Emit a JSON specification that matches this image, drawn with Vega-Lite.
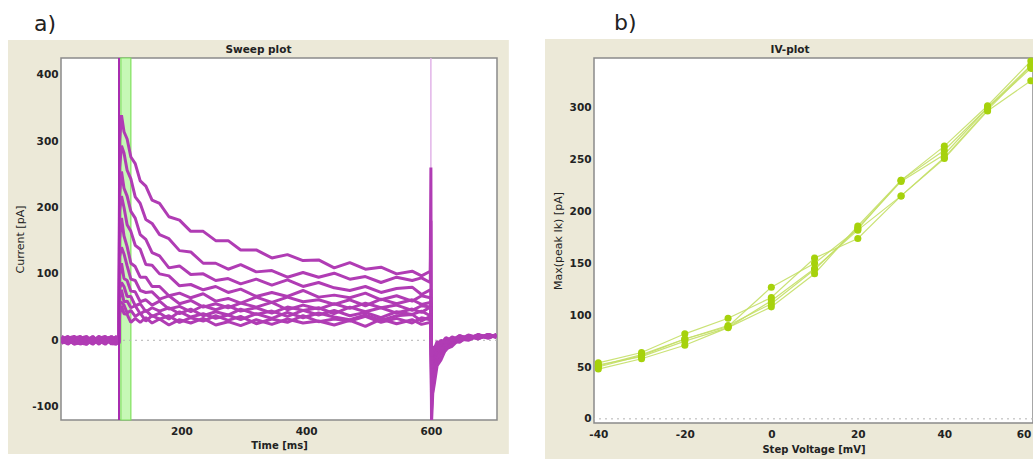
{
"$schema":"https://vega.github.io/schema/vega-lite/v6.json",
"background":"white",
"padding":{"left":7,"top":12,"right":0,"bottom":0},
"spacing":35,
"config":{
 "view":{"stroke":null},
 "font":"DejaVu Sans",
 "axis":{"grid":false,"domain":false,"ticks":false,"labelFont":"DejaVu Sans","labelFontWeight":"bold","labelFontSize":10.5,"labelColor":"#222222","titleColor":"#222222","titleFont":"DejaVu Sans","zindex":1,"labelPadding":4,"labelOverlap":false},
 "title":{"font":"DejaVu Sans","color":"#222222"}
},
"datasets":{
"sweeps":[
{"s":1,"t":8,"i":2},{"s":1,"t":18,"i":-4},{"s":1,"t":28,"i":5},{"s":1,"t":38,"i":-1},{"s":1,"t":48,"i":-6},{"s":1,"t":58,"i":3},{"s":1,"t":68,"i":1},{"s":1,"t":78,"i":-5},{"s":1,"t":88,"i":6},{"s":1,"t":96,"i":-2},{"s":1,"t":100,"i":0},
{"s":1,"t":101,"i":300},{"s":1,"t":104,"i":339},{"s":1,"t":108,"i":314},{"s":1,"t":113,"i":303},{"s":1,"t":119,"i":276},{"s":1,"t":126,"i":266},{"s":1,"t":134,"i":240},{"s":1,"t":143,"i":232},{"s":1,"t":153,"i":211},{"s":1,"t":165,"i":206},{"s":1,"t":180,"i":186},{"s":1,"t":197,"i":181},{"s":1,"t":215,"i":164},{"s":1,"t":235,"i":164},{"s":1,"t":255,"i":150},{"s":1,"t":275,"i":150},{"s":1,"t":295,"i":136},{"s":1,"t":320,"i":136},{"s":1,"t":345,"i":124},{"s":1,"t":370,"i":129},{"s":1,"t":395,"i":120},{"s":1,"t":420,"i":121},{"s":1,"t":445,"i":109},{"s":1,"t":470,"i":117},{"s":1,"t":495,"i":107},{"s":1,"t":520,"i":110},{"s":1,"t":545,"i":100},{"s":1,"t":570,"i":104},{"s":1,"t":585,"i":97},{"s":1,"t":599,"i":104},
{"s":1,"t":600,"i":260},{"s":1,"t":601,"i":-125},{"s":1,"t":603,"i":-80},{"s":1,"t":606,"i":-63},{"s":1,"t":610,"i":-38},{"s":1,"t":616,"i":-30},{"s":1,"t":624,"i":-13},{"s":1,"t":634,"i":-9},{"s":1,"t":646,"i":2},{"s":1,"t":660,"i":0},{"s":1,"t":676,"i":7},{"s":1,"t":692,"i":3},{"s":1,"t":705,"i":8},
{"s":2,"t":8,"i":-3},{"s":2,"t":18,"i":5},{"s":2,"t":28,"i":-2},{"s":2,"t":38,"i":4},{"s":2,"t":48,"i":-1},{"s":2,"t":58,"i":-6},{"s":2,"t":68,"i":2},{"s":2,"t":78,"i":5},{"s":2,"t":88,"i":-4},{"s":2,"t":96,"i":3},{"s":2,"t":100,"i":1},
{"s":2,"t":101,"i":260},{"s":2,"t":104,"i":293},{"s":2,"t":108,"i":282},{"s":2,"t":113,"i":256},{"s":2,"t":119,"i":243},{"s":2,"t":126,"i":216},{"s":2,"t":134,"i":206},{"s":2,"t":143,"i":182},{"s":2,"t":153,"i":176},{"s":2,"t":165,"i":159},{"s":2,"t":180,"i":153},{"s":2,"t":197,"i":135},{"s":2,"t":215,"i":133},{"s":2,"t":235,"i":116},{"s":2,"t":255,"i":116},{"s":2,"t":275,"i":107},{"s":2,"t":295,"i":114},{"s":2,"t":320,"i":103},{"s":2,"t":345,"i":105},{"s":2,"t":370,"i":95},{"s":2,"t":395,"i":102},{"s":2,"t":420,"i":95},{"s":2,"t":445,"i":101},{"s":2,"t":470,"i":92},{"s":2,"t":495,"i":96},{"s":2,"t":520,"i":87},{"s":2,"t":545,"i":95},{"s":2,"t":570,"i":90},{"s":2,"t":585,"i":94},{"s":2,"t":599,"i":87},
{"s":2,"t":600,"i":180},{"s":2,"t":601,"i":-105},{"s":2,"t":603,"i":-72},{"s":2,"t":606,"i":-47},{"s":2,"t":610,"i":-36},{"s":2,"t":616,"i":-20},{"s":2,"t":624,"i":-15},{"s":2,"t":634,"i":-2},{"s":2,"t":646,"i":-3},{"s":2,"t":660,"i":6},{"s":2,"t":676,"i":2},{"s":2,"t":692,"i":8},{"s":2,"t":705,"i":5},
{"s":3,"t":8,"i":4},{"s":3,"t":18,"i":-1},{"s":3,"t":28,"i":-5},{"s":3,"t":38,"i":3},{"s":3,"t":48,"i":6},{"s":3,"t":58,"i":-3},{"s":3,"t":68,"i":-2},{"s":3,"t":78,"i":4},{"s":3,"t":88,"i":-6},{"s":3,"t":96,"i":2},{"s":3,"t":100,"i":-1},
{"s":3,"t":101,"i":220},{"s":3,"t":104,"i":254},{"s":3,"t":108,"i":229},{"s":3,"t":113,"i":217},{"s":3,"t":119,"i":194},{"s":3,"t":126,"i":184},{"s":3,"t":134,"i":159},{"s":3,"t":143,"i":152},{"s":3,"t":153,"i":132},{"s":3,"t":165,"i":127},{"s":3,"t":180,"i":109},{"s":3,"t":197,"i":112},{"s":3,"t":215,"i":99},{"s":3,"t":235,"i":100},{"s":3,"t":255,"i":90},{"s":3,"t":275,"i":93},{"s":3,"t":295,"i":85},{"s":3,"t":320,"i":92},{"s":3,"t":345,"i":83},{"s":3,"t":370,"i":91},{"s":3,"t":395,"i":81},{"s":3,"t":420,"i":87},{"s":3,"t":445,"i":79},{"s":3,"t":470,"i":75},{"s":3,"t":495,"i":81},{"s":3,"t":520,"i":72},{"s":3,"t":545,"i":78},{"s":3,"t":570,"i":80},{"s":3,"t":585,"i":69},{"s":3,"t":599,"i":76},
{"s":3,"t":600,"i":76},{"s":3,"t":601,"i":-90},{"s":3,"t":603,"i":-56},{"s":3,"t":606,"i":-45},{"s":3,"t":610,"i":-26},{"s":3,"t":616,"i":-21},{"s":3,"t":624,"i":-7},{"s":3,"t":634,"i":-6},{"s":3,"t":646,"i":4},{"s":3,"t":660,"i":1},{"s":3,"t":676,"i":8},{"s":3,"t":692,"i":4},{"s":3,"t":705,"i":9},
{"s":4,"t":8,"i":-5},{"s":4,"t":18,"i":2},{"s":4,"t":28,"i":4},{"s":4,"t":38,"i":-6},{"s":4,"t":48,"i":1},{"s":4,"t":58,"i":5},{"s":4,"t":68,"i":-3},{"s":4,"t":78,"i":-1},{"s":4,"t":88,"i":3},{"s":4,"t":96,"i":-4},{"s":4,"t":100,"i":2},
{"s":4,"t":101,"i":195},{"s":4,"t":104,"i":217},{"s":4,"t":108,"i":200},{"s":4,"t":113,"i":174},{"s":4,"t":119,"i":164},{"s":4,"t":126,"i":143},{"s":4,"t":134,"i":137},{"s":4,"t":143,"i":114},{"s":4,"t":153,"i":113},{"s":4,"t":165,"i":100},{"s":4,"t":180,"i":97},{"s":4,"t":197,"i":82},{"s":4,"t":215,"i":84},{"s":4,"t":235,"i":76},{"s":4,"t":255,"i":81},{"s":4,"t":275,"i":72},{"s":4,"t":295,"i":77},{"s":4,"t":320,"i":66},{"s":4,"t":345,"i":72},{"s":4,"t":370,"i":66},{"s":4,"t":395,"i":75},{"s":4,"t":420,"i":65},{"s":4,"t":445,"i":68},{"s":4,"t":470,"i":64},{"s":4,"t":495,"i":71},{"s":4,"t":520,"i":61},{"s":4,"t":545,"i":67},{"s":4,"t":570,"i":59},{"s":4,"t":585,"i":67},{"s":4,"t":599,"i":64},
{"s":4,"t":600,"i":64},{"s":4,"t":601,"i":-78},{"s":4,"t":603,"i":-54},{"s":4,"t":606,"i":-33},{"s":4,"t":610,"i":-26},{"s":4,"t":616,"i":-13},{"s":4,"t":624,"i":-10},{"s":4,"t":634,"i":1},{"s":4,"t":646,"i":-2},{"s":4,"t":660,"i":6},{"s":4,"t":676,"i":3},{"s":4,"t":692,"i":9},{"s":4,"t":705,"i":5},
{"s":5,"t":8,"i":1},{"s":5,"t":18,"i":6},{"s":5,"t":28,"i":-3},{"s":5,"t":38,"i":-2},{"s":5,"t":48,"i":5},{"s":5,"t":58,"i":-5},{"s":5,"t":68,"i":4},{"s":5,"t":78,"i":-4},{"s":5,"t":88,"i":0},{"s":5,"t":96,"i":6},{"s":5,"t":100,"i":-2},
{"s":5,"t":101,"i":152},{"s":5,"t":104,"i":184},{"s":5,"t":108,"i":157},{"s":5,"t":113,"i":141},{"s":5,"t":119,"i":116},{"s":5,"t":126,"i":111},{"s":5,"t":134,"i":95},{"s":5,"t":143,"i":95},{"s":5,"t":153,"i":81},{"s":5,"t":165,"i":81},{"s":5,"t":180,"i":67},{"s":5,"t":197,"i":71},{"s":5,"t":215,"i":64},{"s":5,"t":235,"i":70},{"s":5,"t":255,"i":59},{"s":5,"t":275,"i":63},{"s":5,"t":295,"i":56},{"s":5,"t":320,"i":65},{"s":5,"t":345,"i":57},{"s":5,"t":370,"i":65},{"s":5,"t":395,"i":58},{"s":5,"t":420,"i":61},{"s":5,"t":445,"i":54},{"s":5,"t":470,"i":61},{"s":5,"t":495,"i":52},{"s":5,"t":520,"i":62},{"s":5,"t":545,"i":55},{"s":5,"t":570,"i":61},{"s":5,"t":585,"i":54},{"s":5,"t":599,"i":57},
{"s":5,"t":600,"i":57},{"s":5,"t":601,"i":-66},{"s":5,"t":603,"i":-40},{"s":5,"t":606,"i":-33},{"s":5,"t":610,"i":-17},{"s":5,"t":616,"i":-15},{"s":5,"t":624,"i":-3},{"s":5,"t":634,"i":-4},{"s":5,"t":646,"i":5},{"s":5,"t":660,"i":2},{"s":5,"t":676,"i":8},{"s":5,"t":692,"i":4},{"s":5,"t":705,"i":8},
{"s":6,"t":8,"i":-2},{"s":6,"t":18,"i":-5},{"s":6,"t":28,"i":3},{"s":6,"t":38,"i":6},{"s":6,"t":48,"i":-4},{"s":6,"t":58,"i":1},{"s":6,"t":68,"i":-6},{"s":6,"t":78,"i":3},{"s":6,"t":88,"i":5},{"s":6,"t":96,"i":-1},{"s":6,"t":100,"i":3},
{"s":6,"t":101,"i":126},{"s":6,"t":104,"i":140},{"s":6,"t":108,"i":130},{"s":6,"t":113,"i":112},{"s":6,"t":119,"i":92},{"s":6,"t":126,"i":90},{"s":6,"t":134,"i":75},{"s":6,"t":143,"i":72},{"s":6,"t":153,"i":73},{"s":6,"t":165,"i":62},{"s":6,"t":180,"i":67},{"s":6,"t":197,"i":55},{"s":6,"t":215,"i":60},{"s":6,"t":235,"i":50},{"s":6,"t":255,"i":55},{"s":6,"t":275,"i":49},{"s":6,"t":295,"i":56},{"s":6,"t":320,"i":50},{"s":6,"t":345,"i":57},{"s":6,"t":370,"i":46},{"s":6,"t":395,"i":53},{"s":6,"t":420,"i":47},{"s":6,"t":445,"i":55},{"s":6,"t":470,"i":48},{"s":6,"t":495,"i":56},{"s":6,"t":520,"i":49},{"s":6,"t":545,"i":53},{"s":6,"t":570,"i":45},{"s":6,"t":585,"i":52},{"s":6,"t":599,"i":50},
{"s":6,"t":600,"i":50},{"s":6,"t":601,"i":-57},{"s":6,"t":603,"i":-40},{"s":6,"t":606,"i":-23},{"s":6,"t":610,"i":-19},{"s":6,"t":616,"i":-7},{"s":6,"t":624,"i":-8},{"s":6,"t":634,"i":3},{"s":6,"t":646,"i":0},{"s":6,"t":660,"i":7},{"s":6,"t":676,"i":3},{"s":6,"t":692,"i":9},{"s":6,"t":705,"i":5},
{"s":7,"t":8,"i":6},{"s":7,"t":18,"i":1},{"s":7,"t":28,"i":-4},{"s":7,"t":38,"i":-5},{"s":7,"t":48,"i":2},{"s":7,"t":58,"i":4},{"s":7,"t":68,"i":-1},{"s":7,"t":78,"i":-6},{"s":7,"t":88,"i":2},{"s":7,"t":96,"i":5},{"s":7,"t":100,"i":-3},
{"s":7,"t":101,"i":98},{"s":7,"t":104,"i":116},{"s":7,"t":108,"i":93},{"s":7,"t":113,"i":90},{"s":7,"t":119,"i":74},{"s":7,"t":126,"i":73},{"s":7,"t":134,"i":58},{"s":7,"t":143,"i":61},{"s":7,"t":153,"i":53},{"s":7,"t":165,"i":59},{"s":7,"t":180,"i":47},{"s":7,"t":197,"i":51},{"s":7,"t":215,"i":43},{"s":7,"t":235,"i":52},{"s":7,"t":255,"i":46},{"s":7,"t":275,"i":52},{"s":7,"t":295,"i":44},{"s":7,"t":320,"i":49},{"s":7,"t":345,"i":41},{"s":7,"t":370,"i":50},{"s":7,"t":395,"i":45},{"s":7,"t":420,"i":49},{"s":7,"t":445,"i":40},{"s":7,"t":470,"i":50},{"s":7,"t":495,"i":43},{"s":7,"t":520,"i":49},{"s":7,"t":545,"i":41},{"s":7,"t":570,"i":47},{"s":7,"t":585,"i":42},{"s":7,"t":599,"i":50},
{"s":7,"t":600,"i":45},{"s":7,"t":601,"i":-50},{"s":7,"t":603,"i":-29},{"s":7,"t":606,"i":-25},{"s":7,"t":610,"i":-11},{"s":7,"t":616,"i":-12},{"s":7,"t":624,"i":-1},{"s":7,"t":634,"i":-3},{"s":7,"t":646,"i":6},{"s":7,"t":660,"i":2},{"s":7,"t":676,"i":8},{"s":7,"t":692,"i":4},{"s":7,"t":705,"i":8},
{"s":8,"t":8,"i":-4},{"s":8,"t":18,"i":3},{"s":8,"t":28,"i":6},{"s":8,"t":38,"i":1},{"s":8,"t":48,"i":-3},{"s":8,"t":58,"i":-2},{"s":8,"t":68,"i":5},{"s":8,"t":78,"i":2},{"s":8,"t":88,"i":-5},{"s":8,"t":96,"i":-6},{"s":8,"t":100,"i":4},
{"s":8,"t":101,"i":78},{"s":8,"t":104,"i":87},{"s":8,"t":108,"i":81},{"s":8,"t":113,"i":66},{"s":8,"t":119,"i":66},{"s":8,"t":126,"i":52},{"s":8,"t":134,"i":55},{"s":8,"t":143,"i":43},{"s":8,"t":153,"i":49},{"s":8,"t":165,"i":44},{"s":8,"t":180,"i":49},{"s":8,"t":197,"i":40},{"s":8,"t":215,"i":47},{"s":8,"t":235,"i":37},{"s":8,"t":255,"i":43},{"s":8,"t":275,"i":38},{"s":8,"t":295,"i":47},{"s":8,"t":320,"i":39},{"s":8,"t":345,"i":44},{"s":8,"t":370,"i":36},{"s":8,"t":395,"i":45},{"s":8,"t":420,"i":38},{"s":8,"t":445,"i":45},{"s":8,"t":470,"i":37},{"s":8,"t":495,"i":42},{"s":8,"t":520,"i":34},{"s":8,"t":545,"i":43},{"s":8,"t":570,"i":39},{"s":8,"t":585,"i":44},{"s":8,"t":599,"i":37},
{"s":8,"t":600,"i":40},{"s":8,"t":601,"i":-43},{"s":8,"t":603,"i":-30},{"s":8,"t":606,"i":-15},{"s":8,"t":610,"i":-14},{"s":8,"t":616,"i":-4},{"s":8,"t":624,"i":-5},{"s":8,"t":634,"i":4},{"s":8,"t":646,"i":0},{"s":8,"t":660,"i":7},{"s":8,"t":676,"i":3},{"s":8,"t":692,"i":8},{"s":8,"t":705,"i":4},
{"s":9,"t":8,"i":3},{"s":9,"t":18,"i":-6},{"s":9,"t":28,"i":1},{"s":9,"t":38,"i":5},{"s":9,"t":48,"i":-5},{"s":9,"t":58,"i":6},{"s":9,"t":68,"i":-4},{"s":9,"t":78,"i":1},{"s":9,"t":88,"i":-2},{"s":9,"t":96,"i":4},{"s":9,"t":100,"i":-5},
{"s":9,"t":101,"i":64},{"s":9,"t":104,"i":76},{"s":9,"t":108,"i":58},{"s":9,"t":113,"i":59},{"s":9,"t":119,"i":49},{"s":9,"t":126,"i":52},{"s":9,"t":134,"i":40},{"s":9,"t":143,"i":45},{"s":9,"t":153,"i":36},{"s":9,"t":165,"i":41},{"s":9,"t":180,"i":32},{"s":9,"t":197,"i":43},{"s":9,"t":215,"i":35},{"s":9,"t":235,"i":40},{"s":9,"t":255,"i":33},{"s":9,"t":275,"i":38},{"s":9,"t":295,"i":31},{"s":9,"t":320,"i":40},{"s":9,"t":345,"i":33},{"s":9,"t":370,"i":42},{"s":9,"t":395,"i":34},{"s":9,"t":420,"i":41},{"s":9,"t":445,"i":35},{"s":9,"t":470,"i":31},{"s":9,"t":495,"i":38},{"s":9,"t":520,"i":30},{"s":9,"t":545,"i":37},{"s":9,"t":570,"i":39},{"s":9,"t":585,"i":29},{"s":9,"t":599,"i":36},
{"s":9,"t":600,"i":35},{"s":9,"t":601,"i":-36},{"s":9,"t":603,"i":-20},{"s":9,"t":606,"i":-18},{"s":9,"t":610,"i":-6},{"s":9,"t":616,"i":-8},{"s":9,"t":624,"i":2},{"s":9,"t":634,"i":-1},{"s":9,"t":646,"i":7},{"s":9,"t":660,"i":3},{"s":9,"t":676,"i":7},{"s":9,"t":692,"i":4},{"s":9,"t":705,"i":8},
{"s":10,"t":8,"i":-1},{"s":10,"t":18,"i":4},{"s":10,"t":28,"i":-6},{"s":10,"t":38,"i":-3},{"s":10,"t":48,"i":3},{"s":10,"t":58,"i":-1},{"s":10,"t":68,"i":6},{"s":10,"t":78,"i":-3},{"s":10,"t":88,"i":4},{"s":10,"t":96,"i":-5},{"s":10,"t":100,"i":5},
{"s":10,"t":101,"i":57},{"s":10,"t":104,"i":57},{"s":10,"t":108,"i":53},{"s":10,"t":113,"i":41},{"s":10,"t":119,"i":45},{"s":10,"t":126,"i":36},{"s":10,"t":134,"i":41},{"s":10,"t":143,"i":29},{"s":10,"t":153,"i":37},{"s":10,"t":165,"i":32},{"s":10,"t":180,"i":37},{"s":10,"t":197,"i":27},{"s":10,"t":215,"i":34},{"s":10,"t":235,"i":29},{"s":10,"t":255,"i":37},{"s":10,"t":275,"i":30},{"s":10,"t":295,"i":36},{"s":10,"t":320,"i":25},{"s":10,"t":345,"i":32},{"s":10,"t":370,"i":27},{"s":10,"t":395,"i":37},{"s":10,"t":420,"i":28},{"s":10,"t":445,"i":32},{"s":10,"t":470,"i":29},{"s":10,"t":495,"i":36},{"s":10,"t":520,"i":27},{"s":10,"t":545,"i":33},{"s":10,"t":570,"i":26},{"s":10,"t":585,"i":34},{"s":10,"t":599,"i":31},
{"s":10,"t":600,"i":31},{"s":10,"t":601,"i":-30},{"s":10,"t":603,"i":-21},{"s":10,"t":606,"i":-9},{"s":10,"t":610,"i":-10},{"s":10,"t":616,"i":0},{"s":10,"t":624,"i":-3},{"s":10,"t":634,"i":5},{"s":10,"t":646,"i":1},{"s":10,"t":660,"i":8},{"s":10,"t":676,"i":4},{"s":10,"t":692,"i":9},{"s":10,"t":705,"i":5},
{"s":11,"t":8,"i":5},{"s":11,"t":18,"i":-2},{"s":11,"t":28,"i":2},{"s":11,"t":38,"i":-4},{"s":11,"t":48,"i":-6},{"s":11,"t":58,"i":2},{"s":11,"t":68,"i":3},{"s":11,"t":78,"i":6},{"s":11,"t":88,"i":-3},{"s":11,"t":96,"i":1},{"s":11,"t":100,"i":-4},
{"s":11,"t":101,"i":39},{"s":11,"t":104,"i":52},{"s":11,"t":108,"i":40},{"s":11,"t":113,"i":39},{"s":11,"t":119,"i":27},{"s":11,"t":126,"i":33},{"s":11,"t":134,"i":27},{"s":11,"t":143,"i":34},{"s":11,"t":153,"i":26},{"s":11,"t":165,"i":32},{"s":11,"t":180,"i":23},{"s":11,"t":197,"i":31},{"s":11,"t":215,"i":26},{"s":11,"t":235,"i":33},{"s":11,"t":255,"i":23},{"s":11,"t":275,"i":28},{"s":11,"t":295,"i":22},{"s":11,"t":320,"i":31},{"s":11,"t":345,"i":24},{"s":11,"t":370,"i":32},{"s":11,"t":395,"i":26},{"s":11,"t":420,"i":29},{"s":11,"t":445,"i":23},{"s":11,"t":470,"i":30},{"s":11,"t":495,"i":21},{"s":11,"t":520,"i":32},{"s":11,"t":545,"i":25},{"s":11,"t":570,"i":31},{"s":11,"t":585,"i":24},{"s":11,"t":599,"i":27},
{"s":11,"t":600,"i":27},{"s":11,"t":601,"i":-24},{"s":11,"t":603,"i":-11},{"s":11,"t":606,"i":-12},{"s":11,"t":610,"i":-2},{"s":11,"t":616,"i":-5},{"s":11,"t":624,"i":4},{"s":11,"t":634,"i":0},{"s":11,"t":646,"i":7},{"s":11,"t":660,"i":2},{"s":11,"t":676,"i":9},{"s":11,"t":692,"i":4},{"s":11,"t":705,"i":8}
],
"iv":[
{"c":1,"v":-40,"p":50},{"c":1,"v":-30,"p":61},{"c":1,"v":-20,"p":77},{"c":1,"v":-10,"p":89},{"c":1,"v":0,"p":127},{"c":1,"v":10,"p":150},{"c":1,"v":20,"p":183},{"c":1,"v":30,"p":230},{"c":1,"v":40,"p":263},{"c":1,"v":50,"p":302},{"c":1,"v":60,"p":345},
{"c":2,"v":-40,"p":48},{"c":2,"v":-30,"p":58},{"c":2,"v":-20,"p":71},{"c":2,"v":-10,"p":88},{"c":2,"v":0,"p":108},{"c":2,"v":10,"p":140},{"c":2,"v":20,"p":186},{"c":2,"v":30,"p":230},{"c":2,"v":40,"p":259},{"c":2,"v":50,"p":300},{"c":2,"v":60,"p":341},
{"c":3,"v":-40,"p":54},{"c":3,"v":-30,"p":64},{"c":3,"v":-20,"p":82},{"c":3,"v":-10,"p":97},{"c":3,"v":0,"p":117},{"c":3,"v":10,"p":155},{"c":3,"v":20,"p":174},{"c":3,"v":30,"p":215},{"c":3,"v":40,"p":251},{"c":3,"v":50,"p":297},{"c":3,"v":60,"p":326},
{"c":4,"v":-40,"p":51},{"c":4,"v":-30,"p":62},{"c":4,"v":-20,"p":77},{"c":4,"v":-10,"p":90},{"c":4,"v":0,"p":111},{"c":4,"v":10,"p":144},{"c":4,"v":20,"p":184},{"c":4,"v":30,"p":229},{"c":4,"v":40,"p":255},{"c":4,"v":50,"p":300},{"c":4,"v":60,"p":338},
{"c":5,"v":-40,"p":52},{"c":5,"v":-30,"p":60},{"c":5,"v":-20,"p":75},{"c":5,"v":-10,"p":88},{"c":5,"v":0,"p":114},{"c":5,"v":10,"p":145},{"c":5,"v":20,"p":182},{"c":5,"v":30,"p":215},{"c":5,"v":40,"p":252},{"c":5,"v":50,"p":298},{"c":5,"v":60,"p":340}
]
},
"hconcat":[
 {"title":{"text":"a)","anchor":"start","frame":"bounds","fontSize":22,"fontWeight":"normal","dx":26,"offset":4},
  "hconcat":[
   {"width":436,"height":362,
    "title":{"text":"Sweep plot","frame":"bounds","anchor":"middle","fontSize":10.5,"fontWeight":"bold","offset":-15},
    "layer":[
     {"data":{"values":[{}]},"mark":{"type":"rect","fill":"#ECE9D8"},
      "encoding":{
       "x":{"datum":-78,"type":"quantitative","scale":{"domain":[7,706],"nice":false,"zero":false},"axis":{"values":[200,400,600],"title":"Time [ms]","titleFontWeight":"bold","titleFontSize":10,"titlePadding":4,"labelPadding":6,"zindex":2}},
       "x2":{"datum":725},
       "y":{"datum":452,"type":"quantitative","scale":{"domain":[-120,425],"nice":false,"zero":false},"axis":{"values":[-100,0,100,200,300,400],"labelExpr":"'' + datum.value","title":"Current [pA]","titleFontWeight":"normal","titleFontSize":11,"titlePadding":6,"labelPadding":3,"zindex":2}},
       "y2":{"datum":-171}}},
     {"data":{"values":[{}]},"mark":{"type":"rect","fill":"white","stroke":"#8a8a8a","strokeWidth":1.5},"encoding":{}},
     {"data":{"values":[{"t1":103,"t2":119}]},"mark":{"type":"rect","fill":"#c6f8b6","stroke":"#7ee05c","strokeWidth":1.2},
      "encoding":{"x":{"field":"t1","type":"quantitative","scale":{"domain":[7,706],"nice":false,"zero":false}},"x2":{"field":"t2"}}},
     {"data":{"values":[{}]},"mark":{"type":"rule","color":"#b4b4b4","strokeDash":[2,4]},"encoding":{"y":{"datum":0,"type":"quantitative","scale":{"domain":[-120,425],"nice":false,"zero":false}}}},
     {"data":{"values":[{"t":600}]},"mark":{"type":"rule","color":"#e2b4e8","strokeWidth":1.5},"encoding":{"x":{"field":"t","type":"quantitative","scale":{"domain":[7,706],"nice":false,"zero":false}}}},
     {"data":{"name":"sweeps"},"mark":{"type":"line","color":"#b03cb4","strokeWidth":3,"strokeJoin":"bevel","clip":true},
      "encoding":{"x":{"field":"t","type":"quantitative","scale":{"domain":[7,706],"nice":false,"zero":false}},"y":{"field":"i","type":"quantitative","scale":{"domain":[-120,425],"nice":false,"zero":false}},"detail":{"field":"s","type":"nominal"}}},
     {"data":{"values":[{"t":100}]},"mark":{"type":"rule","color":"#a82cb0","strokeWidth":2},"encoding":{"x":{"field":"t","type":"quantitative","scale":{"domain":[7,706],"nice":false,"zero":false}}}}
    ]}
  ]},
 {"title":{"text":"b)","anchor":"start","frame":"bounds","fontSize":22,"fontWeight":"normal","dx":69,"offset":4},
  "hconcat":[
   {"width":439,"height":365,
    "title":{"text":"IV-plot","frame":"bounds","anchor":"middle","fontSize":10.5,"fontWeight":"bold","offset":-16},
    "layer":[
     {"data":{"values":[{}]},"mark":{"type":"rect","fill":"#ECE9D8"},
      "encoding":{
       "x":{"datum":-52.33,"type":"quantitative","scale":{"domain":[-41,60.5],"nice":false,"zero":false},"axis":{"values":[-40,-20,0,20,40,60],"labelExpr":"'' + datum.value","labelAlign":{"condition":{"test":"datum.value == 60","value":"right"},"value":"center"},"title":"Step Voltage [mV]","titleFontWeight":"bold","titleFontSize":10,"titlePadding":5,"labelPadding":6,"zindex":2}},
       "x2":{"datum":60.96},
       "y":{"datum":366.3,"type":"quantitative","scale":{"domain":[-4,348],"nice":false,"zero":false},"axis":{"values":[0,50,100,150,200,250,300],"title":"Max(peak Ik) [pA]","titleFontWeight":"normal","titleFontSize":11,"titlePadding":6,"labelPadding":3,"zindex":2}},
       "y2":{"datum":-38.7}}},
     {"data":{"values":[{}]},"mark":{"type":"rect","fill":"white","stroke":"#8a8a8a","strokeWidth":1.5},"encoding":{}},
     {"data":{"values":[{}]},"mark":{"type":"rule","color":"#b4b4b4","strokeDash":[2,4]},"encoding":{"y":{"datum":0,"type":"quantitative","scale":{"domain":[-4,348],"nice":false,"zero":false}}}},
     {"data":{"name":"iv"},"mark":{"type":"line","color":"#c4df66","strokeWidth":1.2,"opacity":0.9},
      "encoding":{"x":{"field":"v","type":"quantitative","scale":{"domain":[-41,60.5],"nice":false,"zero":false}},"y":{"field":"p","type":"quantitative","scale":{"domain":[-4,348],"nice":false,"zero":false}},"detail":{"field":"c","type":"nominal"}}},
     {"data":{"name":"iv"},"mark":{"type":"circle","color":"#a6d20c","size":50,"opacity":1},
      "encoding":{"x":{"field":"v","type":"quantitative","scale":{"domain":[-41,60.5],"nice":false,"zero":false}},"y":{"field":"p","type":"quantitative","scale":{"domain":[-4,348],"nice":false,"zero":false}}}}
    ]}
  ]}
]
}
